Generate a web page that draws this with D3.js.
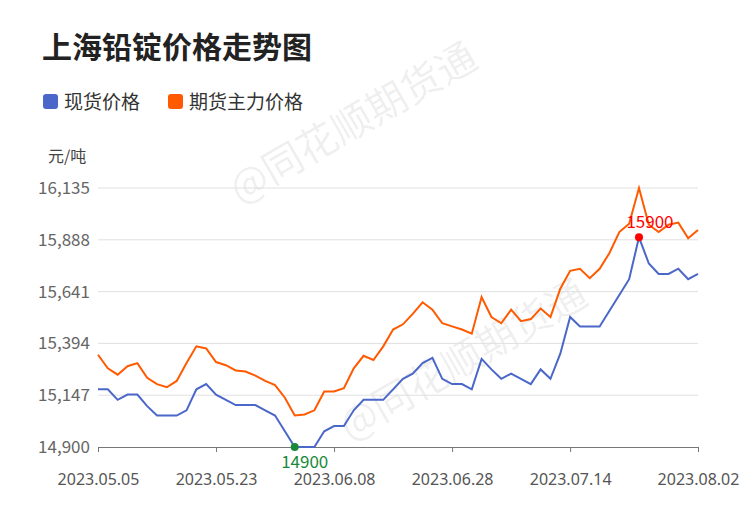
<!DOCTYPE html>
<html><head><meta charset="utf-8">
<script src="https://cdn.jsdelivr.net/npm/d3@7"></script>
<style>body{margin:0;background:#fff}svg{display:block;font-family:"Noto Sans CJK SC","Noto Sans",sans-serif}</style>
</head><body><svg id="c" width="750" height="510"></svg>
<script>
// trading days 2023.05.05 - 2023.08.02 (62 points)
const dayCount = 62;
const tickIdx = [0, 12, 24, 36, 48, 61];
const tickLabels = ["2023.05.05", "2023.05.23", "2023.06.08", "2023.06.28", "2023.07.14", "2023.08.02"];
const yTicks = [14900, 15147, 15394, 15641, 15888, 16135];
const spot = [15175,15175,15125,15150,15150,15095,15050,15050,15050,15075,15175,15200,15150,15125,15100,15100,15100,15075,15050,14975,
  14900,14900,14900,14975,15000,15000,15075,15125,15125,15125,15175,15225,15250,15300,15325,15225,15200,15200,15175,15320,
  15270,15225,15250,15225,15200,15270,15225,15345,15520,15475,15475,15475,15550,15625,15700,15900,15775,15725,15725,15750,15700,15725];
const futures = [15340,15275,15245,15285,15300,15230,15200,15185,15215,15300,15380,15370,15305,15290,15265,15260,15240,15215,15195,15135,
  15050,15055,15075,15165,15165,15180,15275,15335,15315,15380,15460,15485,15535,15590,15555,15490,15475,15460,15440,15615,
  15520,15490,15555,15500,15510,15560,15520,15655,15740,15750,15705,15750,15825,15925,15965,16135,15960,15925,15960,15970,15895,15935];

const svg = d3.select("#c");
const x = d3.scaleLinear().domain([0, dayCount - 1]).range([98, 698]);
const y = d3.scaleLinear().domain([14900, 16135]).range([447, 188]);

// title + legend
svg.append("text").attr("x", 42).attr("y", 58).attr("font-size", 30).attr("font-weight", "bold").attr("fill", "#222").text("上海铅锭价格走势图");
[["现货价格", "#4a67c9", 43], ["期货主力价格", "#ff5a00", 168]].forEach(([t, c, lx]) => {
  svg.append("rect").attr("x", lx).attr("y", 94).attr("width", 15).attr("height", 15).attr("rx", 3).attr("fill", c);
  svg.append("text").attr("x", lx + 21).attr("y", 109).attr("font-size", 19).attr("fill", "#333").text(t);
});
svg.append("text").attr("x", 48).attr("y", 162).attr("font-size", 16).attr("fill", "#444").text("元/吨");

// watermark
[[360, 135], [470, 372]].forEach(([wx, wy]) => {
  svg.append("text").attr("transform", `translate(${wx},${wy}) rotate(-30)`).attr("text-anchor", "middle")
    .attr("font-size", 40).attr("fill", "#000").attr("fill-opacity", 0.07).text("@同花顺期货通");
});

// grid
svg.append("g").selectAll("line").data(yTicks.slice(1)).join("line")
  .attr("x1", 98).attr("x2", 698).attr("y1", d => y(d)).attr("y2", d => y(d))
  .attr("stroke", "#e0e0e0");
svg.append("g").selectAll("text").data(yTicks).join("text")
  .attr("x", 90).attr("y", d => y(d) + 6).attr("text-anchor", "end")
  .attr("font-size", 17).attr("fill", "#666").text(d => d3.format(",")(d));

// x axis
const xAxis = svg.append("g").attr("transform", "translate(0,447)")
  .call(d3.axisBottom(x).tickValues(tickIdx).tickFormat((d, i) => tickLabels[i]).tickSize(5).tickSizeOuter(0));
xAxis.select(".domain").attr("stroke", "#777");
xAxis.selectAll(".tick line").attr("stroke", "#777");
xAxis.selectAll("text").attr("font-size", 16).attr("fill", "#555").attr("y", 33).attr("dy", "0.32em")
  .attr("font-family", '"Noto Sans",sans-serif');

// lines
const line = d3.line().x((d, i) => x(i)).y(d => y(d));
svg.append("path").datum(futures).attr("d", line).attr("fill", "none").attr("stroke", "#ff5a00").attr("stroke-width", 2);
svg.append("path").datum(spot).attr("d", line).attr("fill", "none").attr("stroke", "#4a67c9").attr("stroke-width", 2);

// min / max markers
const iMin = d3.minIndex(spot), iMax = d3.maxIndex(spot);
svg.append("circle").attr("cx", x(iMin)).attr("cy", y(spot[iMin])).attr("r", 4).attr("fill", "#1a8a3a");
svg.append("text").attr("x", x(iMin) + 10).attr("y", y(spot[iMin]) + 21).attr("text-anchor", "middle")
  .attr("font-size", 17).attr("fill", "#1a8a3a").text(spot[iMin]);
svg.append("circle").attr("cx", x(iMax)).attr("cy", y(spot[iMax])).attr("r", 4).attr("fill", "#f00");
svg.append("text").attr("x", x(iMax) + 11).attr("y", y(spot[iMax]) - 9).attr("text-anchor", "middle")
  .attr("font-size", 17).attr("fill", "#f00").text(spot[iMax]);
</script></body></html>
